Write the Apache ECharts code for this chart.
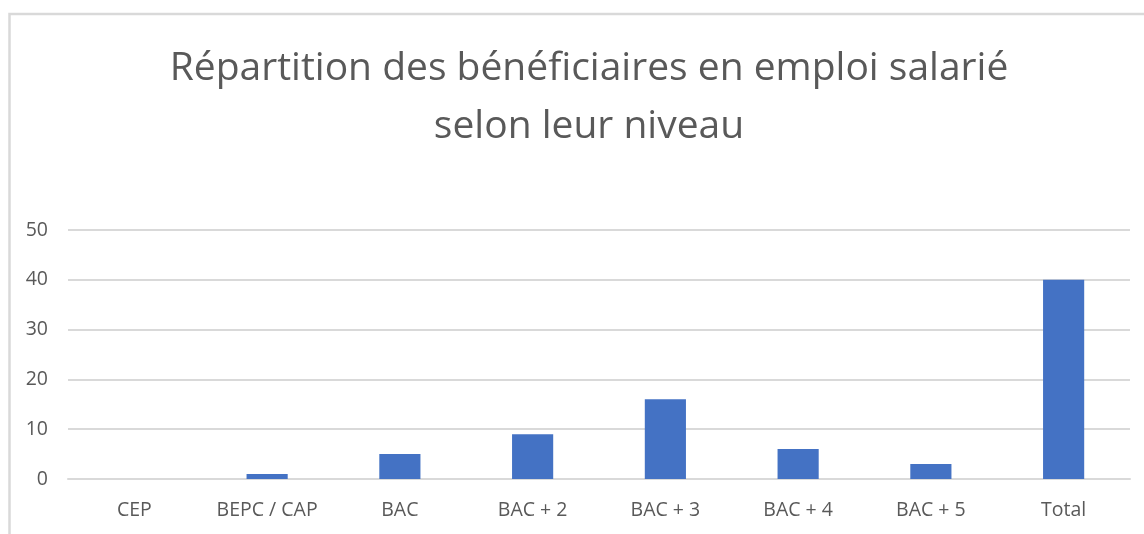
<!DOCTYPE html>
<html>
<head>
<meta charset="utf-8">
<script src="https://cdn.jsdelivr.net/npm/echarts@6/dist/echarts.min.js"></script>
<style>
  html, body { margin: 0; padding: 0; background: #fff; }
  #chart { width: 1144px; height: 534px; }
</style>
</head>
<body>
<div id="chart"></div>
<script>
// ---- données ----
var niveaux = ["CEP", "BEPC / CAP", "BAC", "BAC + 2", "BAC + 3", "BAC + 4", "BAC + 5", "Total"];
var effectifs = [0, 1, 5, 9, 16, 6, 3, 40];
var titre = "Répartition des bénéficiaires en emploi salarié\nselon leur niveau";

var GRIS_TEXTE = "#595959";
var GRIS_LIGNE = "#d9d9d9";
var POLICE = "'Open Sans', sans-serif";

var chart = echarts.init(document.getElementById("chart"), null, { renderer: "canvas" });

chart.setOption({
  animation: false,
  backgroundColor: "#fff",
  title: {
    text: titre,
    left: 584,
    top: 35,
    textAlign: "center",
    textStyle: {
      fontFamily: POLICE,
      fontSize: 39,
      fontWeight: "normal",
      color: GRIS_TEXTE,
      lineHeight: 58
    }
  },
  // cadre gris clair de la zone graphique
  graphic: [{
    type: "rect",
    shape: { x: 9.5, y: 14, width: 1300, height: 700 },
    style: { fill: "none", stroke: GRIS_LIGNE, lineWidth: 2.5 },
    silent: true
  }],
  grid: { left: 68, right: 14, top: 230, bottom: 55 },
  xAxis: {
    type: "category",
    data: niveaux,
    axisLine: { show: true, lineStyle: { color: GRIS_LIGNE, width: 2 } },
    axisTick: { show: false },
    axisLabel: { color: GRIS_TEXTE, fontFamily: POLICE, fontSize: 19.5, margin: 21 }
  },
  yAxis: {
    type: "value",
    min: 0,
    max: 50,
    interval: 10,
    axisLine: { show: false },
    axisTick: { show: false },
    splitLine: { lineStyle: { color: GRIS_LIGNE, width: 2 } },
    axisLabel: { color: GRIS_TEXTE, fontFamily: POLICE, fontSize: 19.5, margin: 20 }
  },
  series: [{
    type: "bar",
    data: effectifs,
    barWidth: "31%",
    itemStyle: { color: "#4472C4" }
  }]
});
</script>
</body>
</html>
